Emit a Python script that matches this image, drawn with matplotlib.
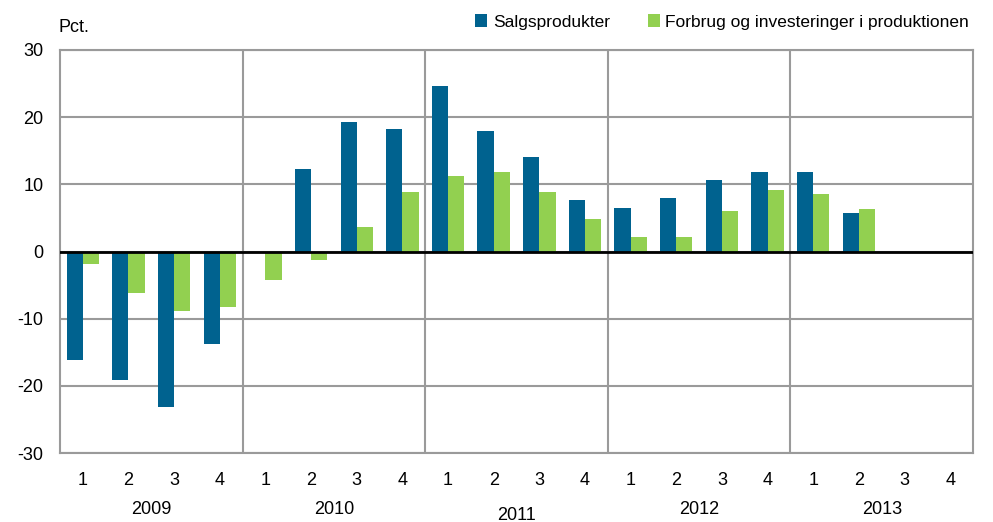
import matplotlib
matplotlib.use("Agg")
import matplotlib.pyplot as plt
from matplotlib import font_manager
import numpy as np

years = ["2009", "2010", "2011", "2012", "2013"]
quarters = ["1", "2", "3", "4"]
salg = [-16.1, -19.2, -23.1, -13.7,
        np.nan, 12.3, 19.3, 18.2,
        24.6, 17.9, 14.1, 7.7,
        6.5, 8.0, 10.7, 11.8,
        11.9, 5.7, np.nan, np.nan]
forbrug = [-1.9, -6.2, -8.9, -8.2,
           -4.2, -1.2, 3.7, 8.8,
           11.2, 11.9, 8.9, 4.8,
           2.2, 2.1, 6.0, 9.2,
           8.6, 6.4, np.nan, np.nan]
series_names = ["Salgsprodukter", "Forbrug og investeringer i produktionen"]

avail = {f.name for f in font_manager.fontManager.ttflist}
fam = [f for f in ["Liberation Sans Narrow", "Arial Narrow", "Liberation Sans", "DejaVu Sans"] if f in avail]
plt.rcParams['font.family'] = fam

BLUE = "#00628F"
GREEN = "#92D050"
GRID = "#9A9A9A"

fig = plt.figure(figsize=(9.93, 5.22), dpi=100)
ax = fig.add_axes([60/993, 1-453/522, (973-60)/993, (453-50)/522])

n = len(salg)
x = np.arange(n)
w = 0.355
ax.bar(x - w/2, salg, width=w, color=BLUE, label=series_names[0], zorder=3)
ax.bar(x + w/2, forbrug, width=w, color=GREEN, label=series_names[1], zorder=3)

ax.set_xlim(-0.5, n - 0.5)
ax.set_ylim(-30, 30)
ax.set_yticks(np.arange(-30, 31, 10))
ax.set_yticklabels([str(v) for v in range(-30, 31, 10)], fontsize=13)
for v in range(-30, 31, 10):
    ax.axhline(v, color=GRID, lw=1.5, zorder=1)
for b in range(4, n, 4):
    ax.axvline(b - 0.5, color=GRID, lw=1.5, zorder=1)
ax.axhline(0, color="black", lw=2, zorder=4)

for s in ax.spines.values():
    s.set_color(GRID)
    s.set_linewidth(1.5)

ax.set_xticks(x)
ax.set_xticklabels(quarters * len(years), fontsize=13)
ax.tick_params(axis='both', length=0)
ax.tick_params(axis='x', pad=14)
ax.tick_params(axis='y', pad=12)

year_px = [510, 510, 515, 510, 510]
for i, yr in enumerate(years):
    xc = 4 * i + 1.5
    fig.text((60 + (xc + 0.5) * (913 / n)) / 993, 1 - year_px[i] / 522, yr,
             ha='center', va='center', fontsize=13)

fig.text(58/993, 1 - 27/522, "Pct.", ha='left', va='center', fontsize=13)

leg = fig.legend(loc='center right', bbox_to_anchor=(969/993, 1 - 22/522), ncol=2,
                 frameon=False, fontsize=12.5, handlelength=0.7, handleheight=0.7,
                 handletextpad=0.3, columnspacing=2.2, borderaxespad=0, borderpad=0)

fig.savefig("out.png", dpi=100)
